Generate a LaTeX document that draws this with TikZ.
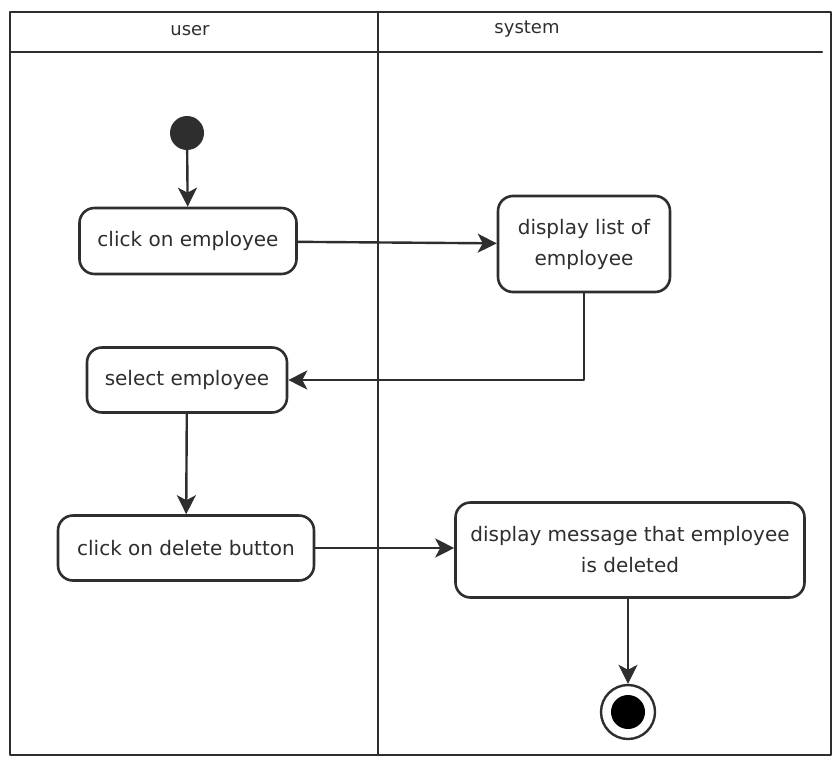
\documentclass[tikz,border=0pt]{standalone}
\usepackage{fontspec}
\setmainfont{DejaVu Sans}
\usetikzlibrary{arrows.meta}
\definecolor{ink}{HTML}{2E2E2E}
\tikzset{
  act/.style={draw=ink, line width=2.6pt, rounded corners=15pt, fill=white,
    align=center, font=\fontsize{20}{31}\selectfont, text=ink, inner sep=0pt},
  flow/.style={->, draw=ink, line width=2.4pt},
  lane/.style={draw=ink, line width=2pt}
}
\begin{document}
\begin{tikzpicture}[x=1pt, y=-1pt, line join=round, line cap=round,
  >={Stealth[length=19pt, width=19pt, inset=5pt]}]
 \useasboundingbox (0,0) rectangle (832,760);
 % swimlane frame
 \draw[lane] (10,12) -- (831,12) -- (831,755) -- (10,755) -- cycle;
 \draw[lane] (10,52) -- (822,52);
 \draw[lane] (378,12) -- (378,755);
 \node[font=\fontsize{18}{20}\selectfont, text=ink] (user) at (190,31) {user};
 \node[font=\fontsize{18}{20}\selectfont, text=ink] (system) at (527,29) {system};
 % start and end
 \node[circle, fill=ink, minimum size=34pt, inner sep=0pt] (start) at (187,133) {};
 \node[circle, draw=ink, line width=2.4pt, minimum size=54pt, inner sep=0pt] (stop) at (628,712) {};
 \fill[black] (stop) circle (17);
 % activities
 \node[act, minimum width=217pt, minimum height=66pt] (click) at (188,241) {click on employee};
 \node[act, minimum width=172pt, minimum height=96pt] (list) at (584,244) {display list of\\employee};
 \node[act, minimum width=200pt, minimum height=65pt] (select) at (187,380) {select employee};
 \node[act, minimum width=256pt, minimum height=65pt] (delete) at (186,548) {click on delete button};
 \node[act, minimum width=349pt, minimum height=95pt] (msg) at (630,550) {display message that employee\\is deleted};
 % transitions
 \draw[flow] (start) -- (click);
 \draw[flow] (click) -- (list);
 \draw[flow] (list.south) |- (select.east);
 \draw[flow] (select) -- (delete);
 \draw[flow] (delete) -- (delete -| msg.west);
 \draw[flow] (msg.south -| stop) -- (stop);
\end{tikzpicture}
\end{document}
